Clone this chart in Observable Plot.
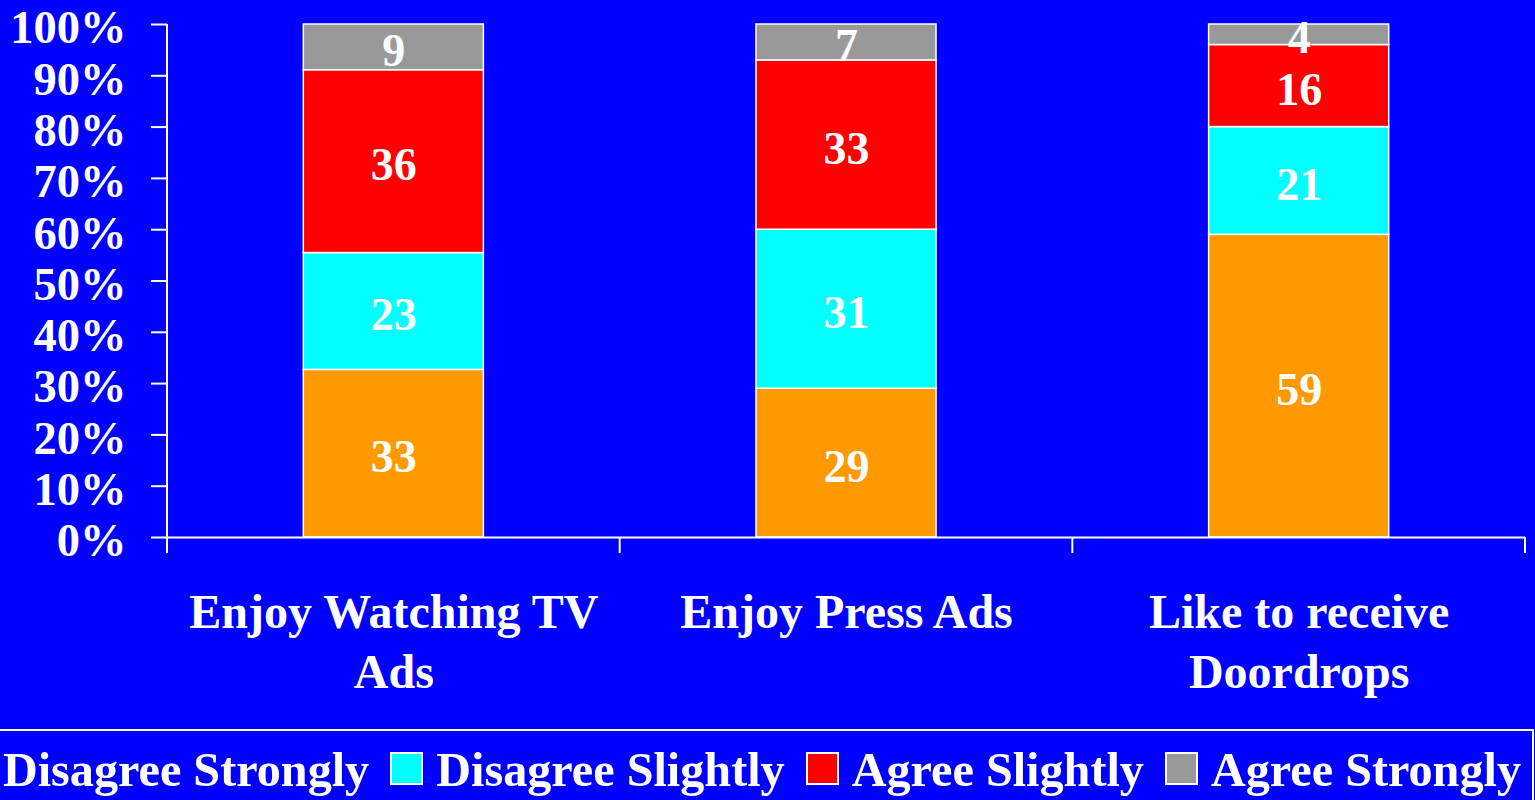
<!DOCTYPE html>
<html><head><meta charset="utf-8">
<script src="https://cdn.jsdelivr.net/npm/d3@7"></script>
<script src="https://cdn.jsdelivr.net/npm/@observablehq/plot@0.6"></script>
<style>
html,body{margin:0;padding:0;background:#0000ff;width:1535px;height:800px;overflow:hidden;}
#chart{position:absolute;left:0;top:0;}
#legend{position:absolute;top:729px;right:1px;height:100px;box-sizing:border-box;border-top:2px solid #fff;border-right:2px solid #fff;
  padding:15px 11px 0 0;display:flex;flex-direction:row;white-space:nowrap;
  font-family:'Liberation Serif','Times New Roman',serif;font-weight:bold;font-size:48.2px;color:#fff;}
.item{display:flex;align-items:center;height:48px;margin-left:21px;}
.sw{display:inline-block;width:33px;height:33px;box-sizing:border-box;border:2px solid #fff;margin-right:13px;margin-top:-3px;}
.lb{line-height:48px;}
</style>
</head><body>
<div id="chart"></div>
<div id="legend"></div>
<script>
const categories = ["Enjoy Watching TV Ads", "Enjoy Press Ads", "Like to receive Doordrops"];
const categoryLabels = ["Enjoy Watching TV\nAds", "Enjoy Press Ads", "Like to receive\nDoordrops"];
const responses = ["Disagree Strongly", "Disagree Slightly", "Agree Slightly", "Agree Strongly"];
const colors = ["#ff9900", "#00ffff", "#ff0000", "#999999"];
const disagreeStrongly = [33, 29, 59];
const disagreeSlightly = [23, 31, 21];
const agreeSlightly = [36, 33, 16];
const agreeStrongly = [9, 7, 4];
const yTicks = [0, 0.1, 0.2, 0.3, 0.4, 0.5, 0.6, 0.7, 0.8, 0.9, 1];

const series = [disagreeStrongly, disagreeSlightly, agreeSlightly, agreeStrongly];
const data = categories.flatMap((c, i) => responses.map((r, j) => ({category: c, response: r, value: series[j][i]})));

const font = "'Liberation Serif','Times New Roman',serif";
const chart = Plot.plot({
  width: 1535, height: 729,
  marginLeft: 167, marginRight: 10, marginTop: 24, marginBottom: 192,
  style: {background: "#0000ff", color: "#fff", fontFamily: font, fontWeight: "bold", overflow: "visible"},
  x: {domain: categories, padding: 0, round: false},
  y: {domain: [0, 1]},
  color: {domain: responses, range: colors},
  marks: [
    Plot.barY(data, Plot.stackY({offset: "normalize", x: "category", y: "value", fill: "response",
      stroke: "#fff", strokeWidth: 1.5, insetLeft: 136.3, insetRight: 136.3})),
    Plot.text(data, Plot.stackY({offset: "normalize", x: "category", y: "value", z: "response", text: "value",
      fill: "#fff", fontSize: 46, fontWeight: "bold", dy: 4})),
    Plot.ruleY([0], {stroke: "#fff", strokeWidth: 2}),
    Plot.axisY({ticks: yTicks, tickSize: 16, fill: "none", stroke: "#fff", strokeWidth: 2, label: null}),
    Plot.axisY({ticks: yTicks, tickSize: 0, tickPadding: 41, dy: 4, tickFormat: d => Math.round(d * 100) + "%",
      fontSize: 46.5, fontWeight: "bold", fill: "#fff", label: null}),
    Plot.axisX({tickSize: 0, tickPadding: 48, tickFormat: d => categoryLabels[categories.indexOf(d)],
      fontSize: 48, fontWeight: "bold", lineHeight: 1.25, fill: "#fff", label: null})
  ]
});
document.getElementById("chart").appendChild(chart);

// axis line and category separator ticks from the plot's own scales
const sx = chart.scale("x"), sy = chart.scale("y");
const yTop = sy.apply(1), yBot = sy.apply(0);
const g = d3.select(chart).append("g").attr("stroke", "#fff").attr("stroke-width", 2);
g.append("line").attr("x1", sx.range[0]).attr("x2", sx.range[0]).attr("y1", yTop).attr("y2", yBot);
for (let i = 0; i <= categories.length; i++) {
  const xb = sx.range[0] + i * sx.step;
  g.append("line").attr("x1", xb).attr("x2", xb).attr("y1", yBot).attr("y2", yBot + 16);
}

// legend
const legend = d3.select("#legend");
responses.forEach((r, i) => {
  const it = legend.append("div").attr("class", "item");
  it.append("span").attr("class", "sw").style("background", colors[i]);
  it.append("span").attr("class", "lb").text(r);
});
</script>
</body></html>
